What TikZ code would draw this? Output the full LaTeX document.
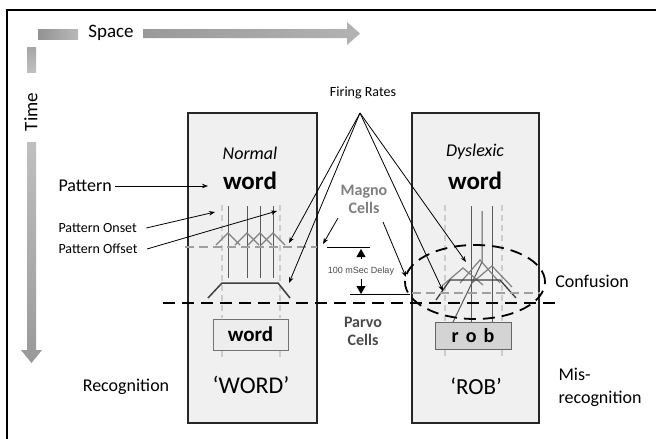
\documentclass[tikz,border=0pt]{standalone}
\usepackage{fontspec}
\setmainfont{Carlito}
\newfontfamily\arialfont{Liberation Sans}
\usetikzlibrary{arrows.meta}
\newcommand{\fsz}[2]{\fontsize{#1}{#2}\selectfont}
\begin{document}
\begin{tikzpicture}[x=1pt,y=-1pt,
		box/.style={draw=black!85,line width=1.3pt,fill=black!6,inner sep=0pt},
		ptr/.style={-{Stealth[length=6pt,width=4.5pt]},line width=0.8pt},
		grayrule/.style={gray!40,line width=2.4pt,dash pattern=on 6pt off 4pt},
		spike/.style={black!65,line width=1pt},
		caret/.style={gray,line width=1.2pt},
		bigdash/.style={line width=1.8pt,dash pattern=on 12pt off 7pt},
		tip/.style={-{Triangle[length=8pt,width=9pt]},line width=0.8pt}]
		\useasboundingbox (0,0) rectangle (656,439);
		\fill[white] (0,0) rectangle (656,439);
		\draw[line width=2pt] (7,439) -- (7,10) -- (656,10);
		% space and time axes
		\shade[left color=gray!85,right color=gray!55] (38,29) rectangle (78,39);
		\node [font=\fsz{19}{22}] (space) at (111,33) {Space};
		\shade[left color=gray!80,right color=gray!60] (143,29) -- (347,29) -- (347,22) -- (360,33.5) -- (347,45) -- (347,38) -- (143,38) -- cycle;
		\shade[top color=gray!70,bottom color=gray!50] (27,47) rectangle (36,72);
		\node [rotate=90,font=\fsz{19}{22}] (time) at (31,112) {Time};
		\shade[top color=gray!50,bottom color=gray!80] (27,142) -- (36,142) -- (36,350) -- (42,350) -- (31.5,363) -- (21,350) -- (27,350) -- cycle;
		% the two panels
		\node [box,minimum width=129pt,minimum height=310pt] (lbox) at (252.5,268) {};
		\node [box,minimum width=127pt,minimum height=310pt] (rbox) at (475.5,268) {};
		\node [draw=black!55,fill=black!7,line width=0.8pt,minimum width=75pt,minimum height=31pt,inner sep=0pt,font=\fsz{21}{21}\bfseries] (wbox) at (250.5,334.5) {word};
		\node [draw=black!60,fill=black!17,line width=0.8pt,minimum width=76pt,minimum height=27pt,inner sep=0pt,font=\fsz{20}{20}\bfseries] (rbbox) at (473,335.5) {r\hspace{7pt}o\hspace{7pt}b};
		% normal reader
		\foreach \x in {222,280} \draw[grayrule] (\x,205) -- (\x,318);
		\foreach \x in {222,280} \draw[grayrule] (\x,351) -- (\x,358);
		\foreach \x in {228,247,260,273} \draw[spike] (\x,206) -- (\x,278);
		\foreach \x in {228,247,260,273} \draw[caret] ({\x-12},245) -- (\x,233) -- ({\x+12},245);
		\draw[gray!75,line width=1.5pt,dash pattern=on 9pt off 5pt] (185,247) -- (317,247);
		\draw[black!75,line width=1.5pt] (208,298) -- (222,283) -- (278,283) -- (290,298);
		% dyslexic reader
		\foreach \x in {445,502} \draw[grayrule] (\x,205) -- (\x,321);
		\foreach \x in {445,502} \draw[grayrule] (\x,350) -- (\x,358);
		\draw[spike] (471,206) -- (471,322);
		\draw[spike] (492,206) -- (492,322);
		\draw[spike] (482,211) -- (482,262) -- (453,322);
		\draw[caret] (443,285) -- (463,268) -- (483,285);
		\draw[caret] (460,283) -- (480,260) -- (500,283);
		\draw[caret] (472,283) -- (492,266) -- (512,287);
		\draw[black!75,line width=1.3pt] (436,300) -- (450,280) -- (500,280) -- (516,298);
		\draw[gray!75,line width=1.5pt,dash pattern=on 9pt off 5pt] (412,293) -- (540,293);
		\draw[bigdash] (475,282) ellipse [x radius=70pt,y radius=37pt];
		\draw[bigdash] (163,303) -- (560,303);
		% labels
		\node [font=\fsz{14}{14}] (firing) at (363,93) {Firing Rates};
		\node [font=\fsz{18}{18}\itshape] (normal) at (250,153) {Normal};
		\node [font=\fsz{25}{25}\bfseries] (lword) at (250,181) {word};
		\node [font=\fsz{18}{18}\itshape] (dyslexic) at (475,152) {Dyslexic};
		\node [font=\fsz{25}{25}\bfseries] (rword) at (475,181) {word};
		\node [anchor=west,font=\fsz{18}{18}] (pattern) at (55,186) {Pattern};
		\node [anchor=west,font=\fsz{14}{14}] (onset) at (55,228) {Pattern Onset};
		\node [anchor=west,font=\fsz{14}{14}] (offset) at (55,249) {Pattern Offset};
		\node [align=center,text=gray,font=\fsz{16}{18}\bfseries] (magno) at (364,199) {Magno\\Cells};
		\node [align=center,text=black!70,font=\fsz{16}{18}\bfseries] (parvo) at (363,331) {Parvo\\Cells};
		\node [text=black!70,font=\arialfont\fsz{9}{9}] (delay) at (361,271) {100 mSec Delay};
		\node [font=\fsz{18}{18}] (recog) at (126,387) {Recognition};
		\node [font=\fsz{24}{24}] (lname) at (251,385) {`WORD'};
		\node [font=\fsz{23}{23}] (rname) at (476,386) {`ROB'};
		\node [anchor=west,align=left,font=\fsz{18}{23}] (misrec) at (555,387) {Mis-\\recognition};
		\node [font=\fsz{18}{18}] (confusion) at (592,281) {Confusion};
		% pointers
		\coordinate (fire) at (360,113);
		\coordinate (lmag) at (289,243);
		\coordinate (lparvo) at (289,283);
		\coordinate (rmag) at (466,262);
		\coordinate (rparvo) at (443,291);
		\coordinate (ptip) at (208,186);
		\coordinate (ontip) at (215,212);
		\coordinate (offtip) at (277,211);
		\coordinate (magL) at (338,218);
		\coordinate (magLtip) at (323,244);
		\coordinate (magR) at (383,222);
		\coordinate (magRtip) at (406,277);
		\draw [ptr] (fire) to (lmag);
		\draw [ptr] (fire) to (lparvo);
		\draw [ptr] (fire) to (rmag);
		\draw [ptr] (fire) to (rparvo);
		\draw [ptr] (pattern.east) to (ptip);
		\draw [ptr] ([xshift=6pt]onset.east) to (ontip);
		\draw [ptr] ([xshift=6pt]offset.east) to (offtip);
		\draw [ptr] (magL) to (magLtip);
		\draw [ptr] (magR) to (magRtip);
		% delay marker
		\draw [line width=0.8pt] (327,247) -- (370,247);
		\draw [line width=0.8pt] (350,294) -- (410,294);
		\draw [tip] (361,259) -- (361,249);
		\draw [tip] (delay.south) -- (361,294);
\end{tikzpicture}
\end{document}
